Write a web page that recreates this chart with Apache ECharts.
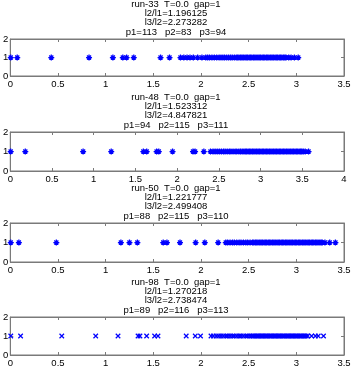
<!DOCTYPE html>
<html><head><meta charset="utf-8">
<script src="https://cdn.jsdelivr.net/npm/echarts@6/dist/echarts.min.js"></script>
<style>html,body{margin:0;padding:0;background:#fff}#c{width:361px;height:387px}</style>
</head><body><div id="c"></div>
<script>
// ---- data ----
const titles = [
  ["run-33  T=0.0  gap=1", "l2/l1=1.196125", "l3/l2=2.273282", "p1=113   p2=83   p3=94"],
  ["run-48  T=0.0  gap=1", "l2/l1=1.523312", "l3/l2=4.847821", "p1=94   p2=115   p3=111"],
  ["run-50  T=0.0  gap=1", "l2/l1=1.221777", "l3/l2=2.499408", "p1=88   p2=115   p3=110"],
  ["run-98  T=0.0  gap=1", "l2/l1=1.270218", "l3/l2=2.738474", "p1=89   p2=116   p3=113"]
];
const xMax = [3.5, 4, 3.5, 3.5];
const xTicks = [0, 0.5, 1, 1.5, 2, 2.5, 3, 3.5, 4];
const yTicks = [0, 1, 2];

const run33 = [0.005, 0.073, 0.43, 0.826, 1.076, 1.18, 1.22, 1.295, 1.576, 1.67,
  1.785, 1.82, 1.854, 1.885, 1.92, 1.965, 2.01, 2.05, 2.07, 2.09, 2.115, 2.14, 2.165, 2.19,
  2.21, 2.23, 2.248, 2.27, 2.29, 2.31, 2.328, 2.35, 2.37,
  2.385, 2.399, 2.416, 2.430, 2.444, 2.461, 2.475, 2.489, 2.506, 2.520, 2.534, 2.551, 2.565,
  2.579, 2.596, 2.610, 2.624, 2.641, 2.655, 2.669, 2.686, 2.700, 2.714, 2.731, 2.745, 2.759,
  2.776, 2.790, 2.804, 2.821, 2.835, 2.849, 2.866, 2.880, 2.892,
  2.92, 2.945, 2.98, 3.02];

const run48 = [0.005, 0.18, 0.873, 1.21, 1.595, 1.635, 1.754, 1.78, 1.945, 2.19, 2.215, 2.32, 2.40,
  2.43, 2.455, 2.48, 2.505, 2.53, 2.555, 2.575, 2.60, 2.625, 2.645, 2.67, 2.695, 2.715, 2.74, 2.76, 2.78,
  2.800, 2.817, 2.833, 2.851, 2.868, 2.884, 2.902, 2.919, 2.935, 2.953, 2.970, 2.986, 3.004,
  3.021, 3.037, 3.055, 3.072, 3.088, 3.106, 3.123, 3.139, 3.157, 3.174, 3.190, 3.208, 3.225,
  3.241, 3.259, 3.276, 3.292, 3.310, 3.327, 3.343, 3.361, 3.378, 3.394, 3.412, 3.429, 3.445,
  3.463, 3.480, 3.494, 3.512, 3.535, 3.575];

const run50 = [0.005, 0.09, 0.483, 1.16, 1.25, 1.333, 1.604, 1.643, 1.78, 1.944, 2.04, 2.18,
  2.26, 2.28, 2.305, 2.33, 2.35, 2.375, 2.40, 2.42, 2.445, 2.47, 2.49, 2.515,
  2.540, 2.554, 2.571, 2.585, 2.599, 2.616, 2.630, 2.644, 2.661, 2.675, 2.689, 2.706, 2.720,
  2.734, 2.751, 2.765, 2.779, 2.796, 2.810, 2.824, 2.841, 2.855, 2.869, 2.886, 2.900, 2.914,
  2.931, 2.945, 2.959, 2.976, 2.990, 3.004, 3.021, 3.035, 3.049, 3.066, 3.080, 3.094, 3.111,
  3.125, 3.139, 3.156, 3.170, 3.184, 3.201, 3.215, 3.229, 3.246, 3.260, 3.272,
  3.30, 3.35, 3.41];

const run98 = [0.005, 0.108, 0.54, 0.896, 1.13, 1.34, 1.36, 1.43, 1.514, 1.549, 1.845, 1.94, 1.995,
  2.105, 2.13, 2.16, 2.185, 2.21, 2.235, 2.26, 2.28, 2.305, 2.33, 2.35, 2.375, 2.40, 2.42,
  2.445, 2.47, 2.49, 2.515, 2.535, 2.55,
  2.564, 2.581, 2.595, 2.609, 2.626, 2.640, 2.654, 2.671, 2.685, 2.699, 2.716, 2.730, 2.744,
  2.761, 2.775, 2.789, 2.806, 2.820, 2.834, 2.851, 2.865, 2.879, 2.896, 2.910, 2.924, 2.941,
  2.955, 2.969, 2.986, 3.000, 3.014, 3.031, 3.045, 3.059, 3.076, 3.090, 3.104, 3.120,
  3.16, 3.20, 3.23, 3.285];

const runs = [run33, run48, run50, run98];

// ---- layout ----
const boxTop = [39, 132, 223, 317];
const boxH = [37, 39, 39, 38];
const FONT = '"Liberation Sans Narrow", "Liberation Sans", Arial, sans-serif';
const AX = '#7a7a7a';
const STAR = 'path://M0,5L10,5M5,0L5,10M1.6,1.6L8.4,8.4M8.4,1.6L1.6,8.4';
const XMK = 'path://M0,0L10,10M10,0L0,10';

const grid = [], xAxis = [], yAxis = [], series = [], title = [];
runs.forEach((d, i) => {
  grid.push({left: 8, right: 17, top: boxTop[i], height: boxH[i], show: true,
    borderColor: AX, borderWidth: 1, backgroundColor: '#fff'});
  title.push({text: titles[i].join('\n'), left: 176, top: boxTop[i] - 39.5, textAlign: 'center',
    padding: 0, itemGap: 0,
    textStyle: {fontFamily: FONT, fontSize: 9.5, fontWeight: 'normal', color: '#000', lineHeight: 9.3}});
  const xb = {type: 'value', gridIndex: i, min: 0, max: xMax[i], interval: 0.5,
    splitLine: {show: false}, axisLine: {show: true, onZero: false, lineStyle: {color: AX, width: 1}},
    axisTick: {show: true, inside: true, length: 3, lineStyle: {color: AX}}};
  xAxis.push(Object.assign({}, xb, {position: 'bottom',
    axisLabel: {show: true, fontFamily: FONT, fontSize: 9.5, color: '#000', margin: 3,
      formatter: v => xTicks.indexOf(v) >= 0 ? String(v) : ''}}));
  xAxis.push(Object.assign({}, xb, {position: 'top', axisLabel: {show: false}}));
  const yb = {type: 'value', gridIndex: i, min: 0, max: 2, interval: 1,
    splitLine: {show: false}, axisLine: {show: true, onZero: false, lineStyle: {color: AX, width: 1}},
    axisTick: {show: true, inside: true, length: 3, lineStyle: {color: AX}}};
  yAxis.push(Object.assign({}, yb, {position: 'left',
    axisLabel: {show: true, fontFamily: FONT, fontSize: 9.5, color: '#000', margin: 2,
      formatter: v => yTicks.indexOf(v) >= 0 ? String(v) : ''}}));
  yAxis.push(Object.assign({}, yb, {position: 'right', axisLabel: {show: false}}));
  series.push({type: 'scatter', xAxisIndex: 2 * i, yAxisIndex: 2 * i,
    symbol: i === 3 ? XMK : STAR, symbolSize: i === 3 ? 4.5 : 6, silent: true, animation: false,
    itemStyle: {color: 'rgba(0,0,0,0)', borderColor: '#0000ff', borderWidth: 1.25, opacity: 1},
    data: d.map(v => [v, 1])});
});

const chart = echarts.init(document.getElementById('c'), null, {renderer: 'canvas'});
chart.setOption({animation: false, backgroundColor: '#fff', title, grid, xAxis, yAxis, series});
</script></body></html>
